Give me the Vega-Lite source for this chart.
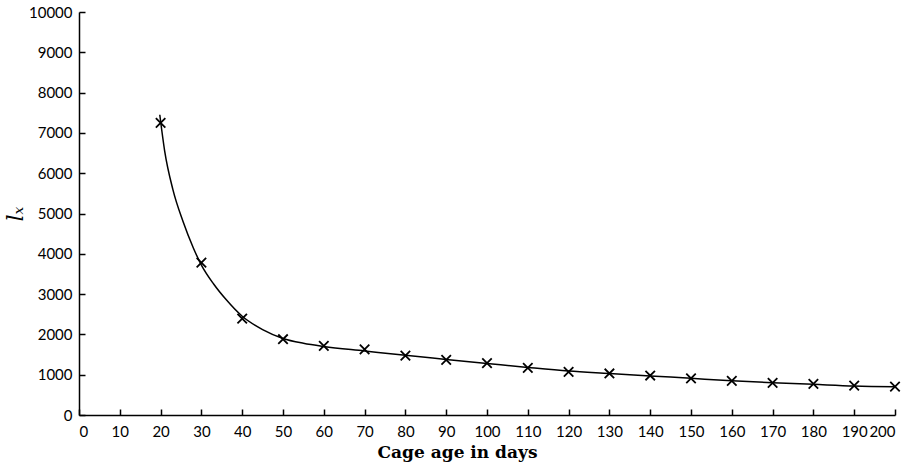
{
  "$schema": "https://vega.github.io/schema/vega-lite/v6.json",
  "width": 816,
  "height": 403,
  "autosize": {"type": "none"},
  "padding": {"left": 79, "top": 12, "right": 21, "bottom": 55},
  "background": "white",
  "config": {
    "view": {"stroke": null},
    "axis": {
      "grid": false,
      "domainColor": "black",
      "tickColor": "black",
      "domainWidth": 1.5,
      "tickWidth": 1.5,
      "tickSize": -6,
      "labelColor": "black",
      "labelFont": "Lato",
      "labelFontSize": 15,
      "titleColor": "black"
    }
  },
  "datasets": {
    "points": [
      {"age": 20, "lx": 7250},
      {"age": 30, "lx": 3780},
      {"age": 40, "lx": 2390},
      {"age": 50, "lx": 1880},
      {"age": 60, "lx": 1715},
      {"age": 70, "lx": 1630},
      {"age": 80, "lx": 1475},
      {"age": 90, "lx": 1370},
      {"age": 100, "lx": 1285},
      {"age": 110, "lx": 1170},
      {"age": 120, "lx": 1070},
      {"age": 130, "lx": 1030},
      {"age": 140, "lx": 980},
      {"age": 150, "lx": 910},
      {"age": 160, "lx": 845},
      {"age": 170, "lx": 795},
      {"age": 180, "lx": 770},
      {"age": 190, "lx": 730},
      {"age": 200, "lx": 705}
    ],
    "curve": [
      {"age": 19.8, "lx": 7450},
      {"age": 21, "lx": 6550},
      {"age": 23, "lx": 5600},
      {"age": 25.5, "lx": 4800},
      {"age": 28, "lx": 4150},
      {"age": 30, "lx": 3720},
      {"age": 33, "lx": 3250},
      {"age": 36, "lx": 2870},
      {"age": 40, "lx": 2450},
      {"age": 45, "lx": 2120},
      {"age": 50, "lx": 1900},
      {"age": 55, "lx": 1780},
      {"age": 60, "lx": 1700},
      {"age": 70, "lx": 1590},
      {"age": 80, "lx": 1480},
      {"age": 90, "lx": 1380},
      {"age": 100, "lx": 1280},
      {"age": 110, "lx": 1180},
      {"age": 120, "lx": 1090},
      {"age": 130, "lx": 1030},
      {"age": 140, "lx": 970},
      {"age": 150, "lx": 910},
      {"age": 160, "lx": 850},
      {"age": 170, "lx": 800},
      {"age": 180, "lx": 760},
      {"age": 190, "lx": 720},
      {"age": 200, "lx": 700}
    ]
  },
  "encoding": {
    "x": {
      "field": "age",
      "type": "quantitative",
      "scale": {"domain": [0, 200], "nice": false},
      "axis": {
        "values": [0,10,20,30,40,50,60,70,80,90,100,110,120,130,140,150,160,170,180,190,200],
        "labelPadding": 15,
        "title": "Cage age in days",
        "titleFont": "DejaVu Serif",
        "titleFontSize": 17,
        "titleFontWeight": "bold",
        "titleX": 378,
        "titleAlign": "center",
        "titlePadding": 5
      }
    },
    "y": {
      "field": "lx",
      "type": "quantitative",
      "scale": {"domain": [0, 10000], "nice": false},
      "axis": {
        "values": [0,1000,2000,3000,4000,5000,6000,7000,8000,9000,10000],
        "format": "d",
        "labelPadding": 13,
        "title": "lₓ",
        "titleFont": "DejaVu Serif",
        "titleFontStyle": "italic",
        "titleFontWeight": "normal",
        "titleFontSize": 22,
        "titlePadding": 1
      }
    }
  },
  "layer": [
    {
      "data": {"name": "curve"},
      "mark": {"type": "line", "interpolate": "monotone", "color": "black", "strokeWidth": 1.5}
    },
    {
      "data": {"name": "points"},
      "mark": {
        "type": "point",
        "shape": "M-1,-1L1,1M1,-1L-1,1",
        "filled": false,
        "color": "black",
        "strokeWidth": 1.8,
        "size": 90,
        "opacity": 1
      }
    }
  ]
}
